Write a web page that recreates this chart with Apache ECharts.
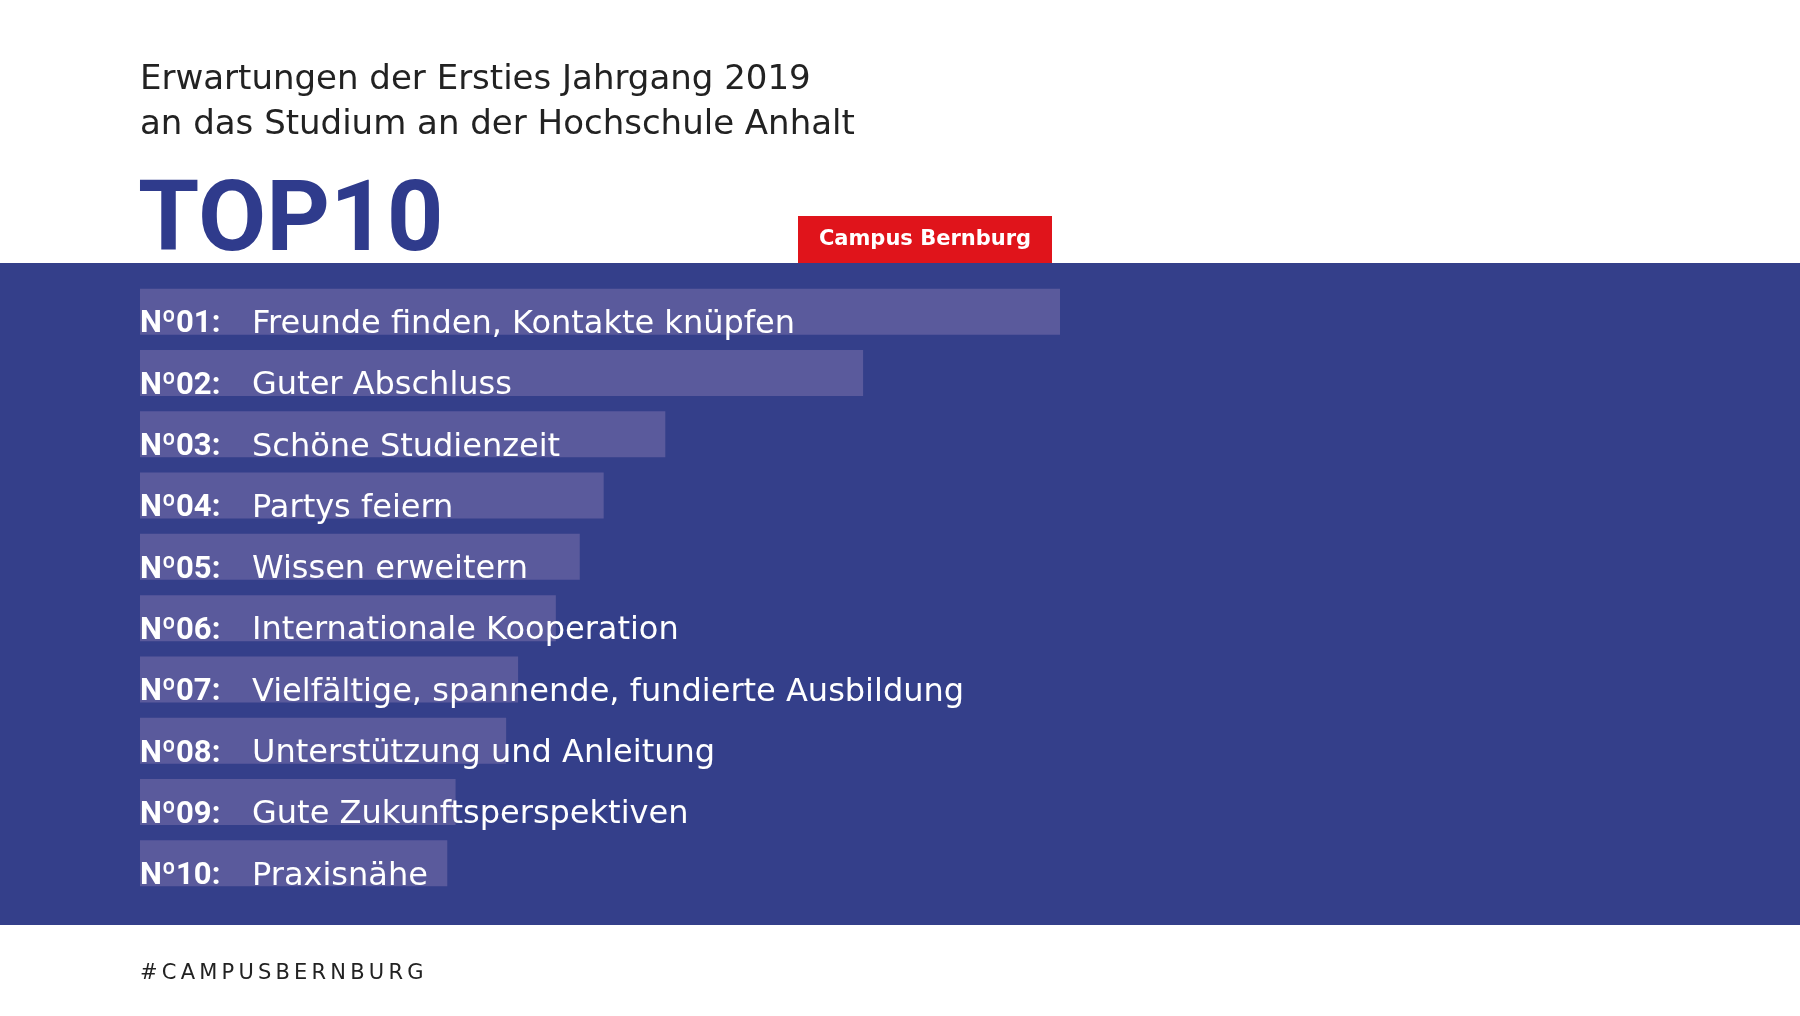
<!DOCTYPE html>
<html lang="de">
<head>
    <meta charset="UTF-8">
    <title>TOP10 Campus Bernburg</title>
    <style>
        html, body {
            margin: 0;
            padding: 0;
            width: 100%;
            height: 100%;
            background: #ffffff;
        }
        #chart {
            width: 1800px;
            height: 1016px;
        }
    </style>
    <script src="https://cdn.jsdelivr.net/npm/echarts@6/dist/echarts.min.js"></script>
</head>
<body>
    <div id="chart"></div>
    <script>
        // Daten
        const ranks = ['01', '02', '03', '04', '05', '06', '07', '08', '09', '10'];
        const items = [
            'Freunde finden, Kontakte knüpfen',
            'Guter Abschluss',
            'Schöne Studienzeit',
            'Partys feiern',
            'Wissen erweitern',
            'Internationale Kooperation',
            'Vielfältige, spannende, fundierte Ausbildung',
            'Unterstützung und Anleitung',
            'Gute Zukunftsperspektiven',
            'Praxisnähe'
        ];
        const values = [100, 78.6, 57.1, 50.4, 47.8, 45.2, 41.1, 39.8, 34.3, 33.4];

        const titleLines = [
            'Erwartungen der Ersties Jahrgang 2019',
            'an das Studium an der Hochschule Anhalt'
        ];
        const hashtag = '#CAMPUSBERNBURG';

        const FONT = '"DejaVu Sans", sans-serif';
        const BOLD_FONT = 'Roboto, "DejaVu Sans", sans-serif';
        const BLUE = '#343f8a';

        const chart = echarts.init(document.getElementById('chart'));

        chart.setOption({
            backgroundColor: '#ffffff',
            animation: false,
            graphic: [
                // blaues Band
                {
                    type: 'rect',
                    z: -10,
                    shape: { x: 0, y: 263, width: 1800, height: 662 },
                    style: { fill: BLUE }
                },
                // rote Box
                {
                    type: 'rect',
                    z: -10,
                    shape: { x: 798, y: 216, width: 254, height: 47 },
                    style: { fill: '#e0141b' }
                },
                {
                    type: 'text',
                    z: 100,
                    x: 925,
                    y: 240,
                    style: {
                        text: 'Campus Bernburg',
                        fill: '#ffffff',
                        font: 'bold 21px ' + FONT,
                        align: 'center',
                        verticalAlign: 'middle'
                    }
                },
                {
                    type: 'text',
                    z: 100,
                    x: 140,
                    y: 80,
                    style: {
                        text: titleLines[0],
                        fill: '#222222',
                        font: '34px ' + FONT,
                        verticalAlign: 'middle'
                    }
                },
                {
                    type: 'text',
                    z: 100,
                    x: 140,
                    y: 125,
                    style: {
                        text: titleLines[1],
                        fill: '#222222',
                        font: '34px ' + FONT,
                        verticalAlign: 'middle'
                    }
                },
                {
                    type: 'text',
                    z: 100,
                    x: 138,
                    y: 225,
                    style: {
                        text: 'TOP10',
                        fill: '#2f3b8c',
                        font: 'bold 99px ' + BOLD_FONT,
                        verticalAlign: 'middle'
                    }
                },
                {
                    type: 'text',
                    z: 100,
                    x: 140,
                    y: 974,
                    style: {
                        text: hashtag.split('').join('\u2009'),
                        fill: '#222222',
                        font: '21px ' + FONT,
                        verticalAlign: 'middle'
                    }
                }
            ],
            grid: {
                left: 140,
                top: 281,
                width: 920,
                height: 613,
                containLabel: false
            },
            xAxis: {
                type: 'value',
                min: 0,
                max: 100,
                show: false
            },
            yAxis: {
                type: 'category',
                inverse: true,
                data: items,
                show: false
            },
            series: [
                {
                    type: 'bar',
                    data: values,
                    barWidth: 46,
                    itemStyle: { color: '#5a5a9c' },
                    label: {
                        show: true,
                        position: 'insideLeft',
                        distance: 0,
                        offset: [0, 13],
                        formatter: function (p) {
                            return '{n|N\u00BA' + ranks[p.dataIndex] + ':}{t|' + items[p.dataIndex] + '}';
                        },
                        rich: {
                            n: {
                                width: 112,
                                color: '#ffffff',
                                fontFamily: BOLD_FONT,
                                fontWeight: 'bold',
                                fontSize: 31
                            },
                            t: {
                                color: '#ffffff',
                                fontFamily: FONT,
                                fontSize: 32
                            }
                        }
                    }
                }
            ]
        });
    </script>
</body>
</html>
